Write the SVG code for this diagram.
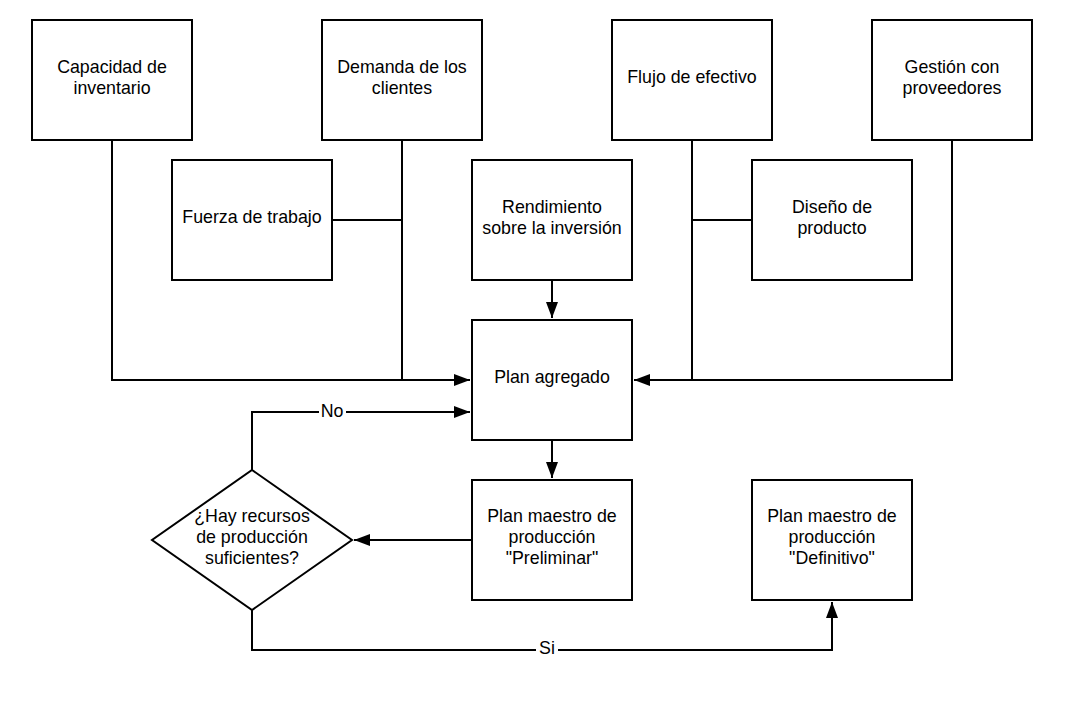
<svg xmlns="http://www.w3.org/2000/svg" width="1071" height="712" viewBox="0 0 1071 712">
<style>
.box{fill:#fff;stroke:#000;stroke-width:2}
.t{font-family:"Liberation Sans",Arial,sans-serif;font-size:17.8px;fill:#000;text-anchor:middle}
.c{fill:none;stroke:#000;stroke-width:2}
.lbl{fill:#fff}
</style>
<defs>
<marker id="ah" viewBox="0 0 16 12" refX="16" refY="6" markerWidth="16" markerHeight="12" markerUnits="userSpaceOnUse" orient="auto">
<path d="M0,0 L16,6 L0,12 Z" fill="#000"/>
</marker>
</defs>
<rect width="1071" height="712" fill="#fff"/>
<g id="connectors">
<path class="c" d="M112,140 V380 H470" marker-end="url(#ah)"/>
<path class="c" d="M402,140 V380"/>
<path class="c" d="M332,220 H402"/>
<path class="c" d="M552,280 V318" marker-end="url(#ah)"/>
<path class="c" d="M952,140 V380 H634" marker-end="url(#ah)"/>
<path class="c" d="M692,140 V380"/>
<path class="c" d="M752,220 H692"/>
<path class="c" d="M552,440 V478" marker-end="url(#ah)"/>
<path class="c" d="M472,540 H354" marker-end="url(#ah)"/>
<path class="c" d="M252,470 V412 H470" marker-end="url(#ah)"/>
<path class="c" d="M252,610 V650 H832 V602" marker-end="url(#ah)"/>
<rect class="lbl" x="319" y="402" width="27" height="18"/>
<text class="t" x="332" y="417">No</text>
<rect class="lbl" x="536" y="640" width="22" height="18"/>
<text class="t" x="547" y="654">Si</text>
</g>
<g id="capacidad"><rect class="box" x="32" y="20" width="160" height="120"/><text class="t" x="112" y="73">Capacidad de</text><text class="t" x="112" y="94">inventario</text></g>
<g id="demanda"><rect class="box" x="322" y="20" width="160" height="120"/><text class="t" x="402" y="73">Demanda de los</text><text class="t" x="402" y="94">clientes</text></g>
<g id="flujo"><rect class="box" x="612" y="20" width="160" height="120"/><text class="t" x="692" y="83">Flujo de efectivo</text></g>
<g id="gestion"><rect class="box" x="872" y="20" width="160" height="120"/><text class="t" x="952" y="73">Gestión con</text><text class="t" x="952" y="94">proveedores</text></g>
<g id="fuerza"><rect class="box" x="172" y="160" width="160" height="120"/><text class="t" x="252" y="223">Fuerza de trabajo</text></g>
<g id="rendimiento"><rect class="box" x="472" y="160" width="160" height="120"/><text class="t" x="552" y="213">Rendimiento</text><text class="t" x="552" y="234">sobre la inversión</text></g>
<g id="diseno"><rect class="box" x="752" y="160" width="160" height="120"/><text class="t" x="832" y="213">Diseño de</text><text class="t" x="832" y="234">producto</text></g>
<g id="plan-agregado"><rect class="box" x="472" y="320" width="160" height="120"/><text class="t" x="552" y="383">Plan agregado</text></g>
<g id="preliminar"><rect class="box" x="472" y="480" width="160" height="120"/><text class="t" x="552" y="522">Plan maestro de</text><text class="t" x="552" y="543">producción</text><text class="t" x="552" y="564">"Preliminar"</text></g>
<g id="definitivo"><rect class="box" x="752" y="480" width="160" height="120"/><text class="t" x="832" y="522">Plan maestro de</text><text class="t" x="832" y="543">producción</text><text class="t" x="832" y="564">"Definitivo"</text></g>
<g id="decision"><polygon class="box" points="252,470 352,540 252,610 152,540"/><text class="t" x="252" y="522">¿Hay recursos</text><text class="t" x="252" y="543">de producción</text><text class="t" x="252" y="564">suficientes?</text></g>
</svg>
